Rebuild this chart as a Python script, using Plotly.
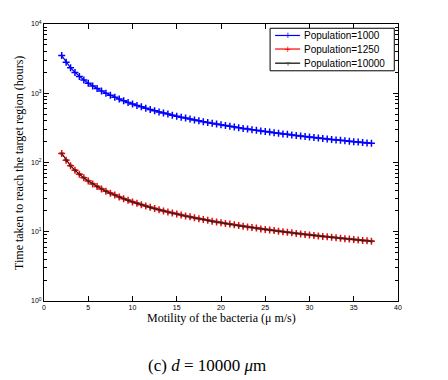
import plotly.graph_objects as go

motility = [2, 2.5, 3, 3.5, 4, 4.5, 5, 5.5, 6, 6.5, 7, 7.5, 8, 8.5, 9, 9.5, 10,
            10.5, 11, 11.5, 12, 12.5, 13, 13.5, 14, 14.5, 15, 15.5, 16, 16.5, 17,
            17.5, 18, 18.5, 19, 19.5, 20, 20.5, 21, 21.5, 22, 22.5, 23, 23.5, 24,
            24.5, 25, 25.5, 26, 26.5, 27, 27.5, 28, 28.5, 29, 29.5, 30, 30.5, 31,
            31.5, 32, 32.5, 33, 33.5, 34, 34.5, 35, 35.5, 36, 36.5, 37]

pop_1000 = [3500, 2800, 2333, 2000, 1750, 1556, 1400, 1273, 1167, 1077, 1000, 933,
            875, 824, 778, 737, 700, 667, 636, 609, 583, 560, 538, 519, 500, 483,
            467, 452, 438, 424, 412, 400, 389, 378, 368, 359, 350, 341, 333, 326,
            318, 311, 304, 298, 292, 286, 280, 275, 269, 264, 259, 255, 250, 246,
            241, 237, 233, 230, 226, 222, 219, 215, 212, 209, 206, 203, 200, 197,
            194, 192, 189]

pop_1250 = [135, 108, 90, 77.1, 67.5, 60, 54, 49.1, 45, 41.5, 38.6, 36, 33.8, 31.8,
            30, 28.4, 27, 25.7, 24.5, 23.5, 22.5, 21.6, 20.8, 20, 19.3, 18.6, 18,
            17.4, 16.9, 16.4, 15.9, 15.4, 15, 14.6, 14.2, 13.8, 13.5, 13.2, 12.9,
            12.6, 12.3, 12, 11.7, 11.5, 11.3, 11, 10.8, 10.6, 10.4, 10.2, 10, 9.82,
            9.64, 9.47, 9.31, 9.15, 9, 8.85, 8.71, 8.57, 8.44, 8.31, 8.18, 8.06,
            7.94, 7.83, 7.71, 7.61, 7.5, 7.4, 7.3]

pop_10000 = [134, 107.5, 89.7, 77, 67.3, 59.9, 53.9, 49, 44.9, 41.4, 38.5, 35.9,
             33.7, 31.7, 29.9, 28.3, 26.9, 25.6, 24.5, 23.4, 22.4, 21.5, 20.7, 20,
             19.2, 18.6, 18, 17.4, 16.8, 16.3, 15.8, 15.4, 15, 14.5, 14.1, 13.8,
             13.5, 13.1, 12.8, 12.5, 12.2, 12, 11.7, 11.4, 11.2, 11, 10.8, 10.6,
             10.3, 10.2, 10, 9.8, 9.6, 9.45, 9.3, 9.1, 9, 8.83, 8.7, 8.55, 8.42,
             8.3, 8.16, 8.04, 7.93, 7.81, 7.7, 7.59, 7.48, 7.38, 7.28]

series_names = ["Population=1000", "Population=1250", "Population=10000"]
series_colors = ["#0000ff", "#ff0000", "#000000"]
y_tickvals = [1, 10, 100, 1000, 10000]
y_ticktext = ["10<sup>0</sup>", "10<sup>1</sup>", "10<sup>2</sup>", "10<sup>3</sup>", "10<sup>4</sup>"]
x_tickvals = [0, 5, 10, 15, 20, 25, 30, 35, 40]

# plot area in page pixels (page has an 8px body margin)
PL, PR, PT, PB = 44.3, 397.7, 20.7, 300.7


def px(xp):
    return (xp - PL) / (PR - PL)


def py(yp):
    return (PB - yp) / (PB - PT)


fig = go.Figure()
fig.add_trace(go.Scatter(
    x=motility, y=pop_1000, name=series_names[0], mode="lines+markers",
    line=dict(color=series_colors[0], width=1.2),
    marker=dict(symbol="cross-thin", size=5, line=dict(color=series_colors[0], width=1.5)),
))
fig.add_trace(go.Scatter(
    x=motility, y=pop_1250, name=series_names[1], mode="lines+markers",
    line=dict(color=series_colors[1], width=1.2),
    marker=dict(symbol="cross-thin", size=5, line=dict(color=series_colors[1], width=1.5)),
))
fig.add_trace(go.Scatter(
    x=motility, y=pop_10000, name=series_names[2], mode="lines+markers",
    line=dict(color=series_colors[2], width=0.8),
    marker=dict(symbol="triangle-down", size=3.5, color="rgba(0,0,0,0)",
                line=dict(color="#333333", width=0.8)),
))

# manual legend (compact, like the original)
shapes = [dict(type="rect", xref="paper", yref="paper",
               x0=px(270), x1=px(394), y0=py(68), y1=py(25),
               line=dict(color="#000", width=1), fillcolor="white", layer="above")]
annotations = []
legend_rows = [32.3, 46, 60.3]
legend_glyphs = ["+", "+", "▿"]
for name, color, ry, glyph in zip(series_names, series_colors, legend_rows, legend_glyphs):
    shapes.append(dict(type="line", xref="paper", yref="paper",
                       x0=px(275), x1=px(300), y0=py(ry), y1=py(ry),
                       line=dict(color=color, width=1.2), layer="above"))
    annotations.append(dict(text=glyph, xref="paper", yref="paper",
                            x=px(287.5), y=py(ry), xanchor="center", yanchor="middle",
                            showarrow=False,
                            font=dict(family="DejaVu Sans", size=9 if glyph == "+" else 8,
                                      color=color if glyph == "+" else "#555")))
    annotations.append(dict(text=name, xref="paper", yref="paper",
                            x=px(301.5), y=py(ry), xanchor="left", yanchor="middle",
                            showarrow=False,
                            font=dict(family="Liberation Sans, Arial, sans-serif", size=10, color="#000")))

tick_font = dict(family="Liberation Sans, Arial, sans-serif", size=7, color="#000")
serif = "Liberation Serif, Times New Roman, serif"
annotations += [
    dict(text="Motility of the bacteria (μ m/s)", xref="paper", yref="paper",
         x=0.5, y=py(318), xanchor="center", yanchor="middle", showarrow=False,
         font=dict(family=serif, size=12, color="#000")),
    dict(text="Time taken to reach the target region (hours)", xref="paper", yref="paper",
         x=px(20), y=py(161.5), xanchor="center", yanchor="middle", showarrow=False,
         textangle=-90, font=dict(family=serif, size=12, color="#000")),
    dict(text="(c) <i>d</i> = 10000 <i>μ</i>m", xref="paper", yref="paper",
         x=px(207.5), y=py(366), xanchor="center", yanchor="middle", showarrow=False,
         font=dict(family=serif, size=17, color="#000")),
]

fig.update_layout(
    width=440, height=372,
    margin=dict(l=PL - 8, r=440 - (PR - 8), t=PT - 8, b=372 - (PB - 8)),
    paper_bgcolor="white", plot_bgcolor="white",
    showlegend=False,
    xaxis=dict(
        range=[0, 40], tickvals=x_tickvals, ticks="inside", ticklen=5,
        tickcolor="#000", showline=True, linecolor="#000", linewidth=1,
        mirror="ticks", showgrid=False, zeroline=False, tickfont=tick_font,
    ),
    yaxis=dict(
        type="log", range=[0, 4], tickvals=y_tickvals, ticktext=y_ticktext,
        ticks="inside", ticklen=5, tickcolor="#000", showline=True,
        linecolor="#000", linewidth=1, mirror="ticks", showgrid=False,
        zeroline=False, tickfont=tick_font,
        minor=dict(ticks="inside", ticklen=3, tickcolor="#000", dtick="D1", showgrid=False),
    ),
    shapes=shapes,
    annotations=annotations,
)

fig.write_html("out.html")
